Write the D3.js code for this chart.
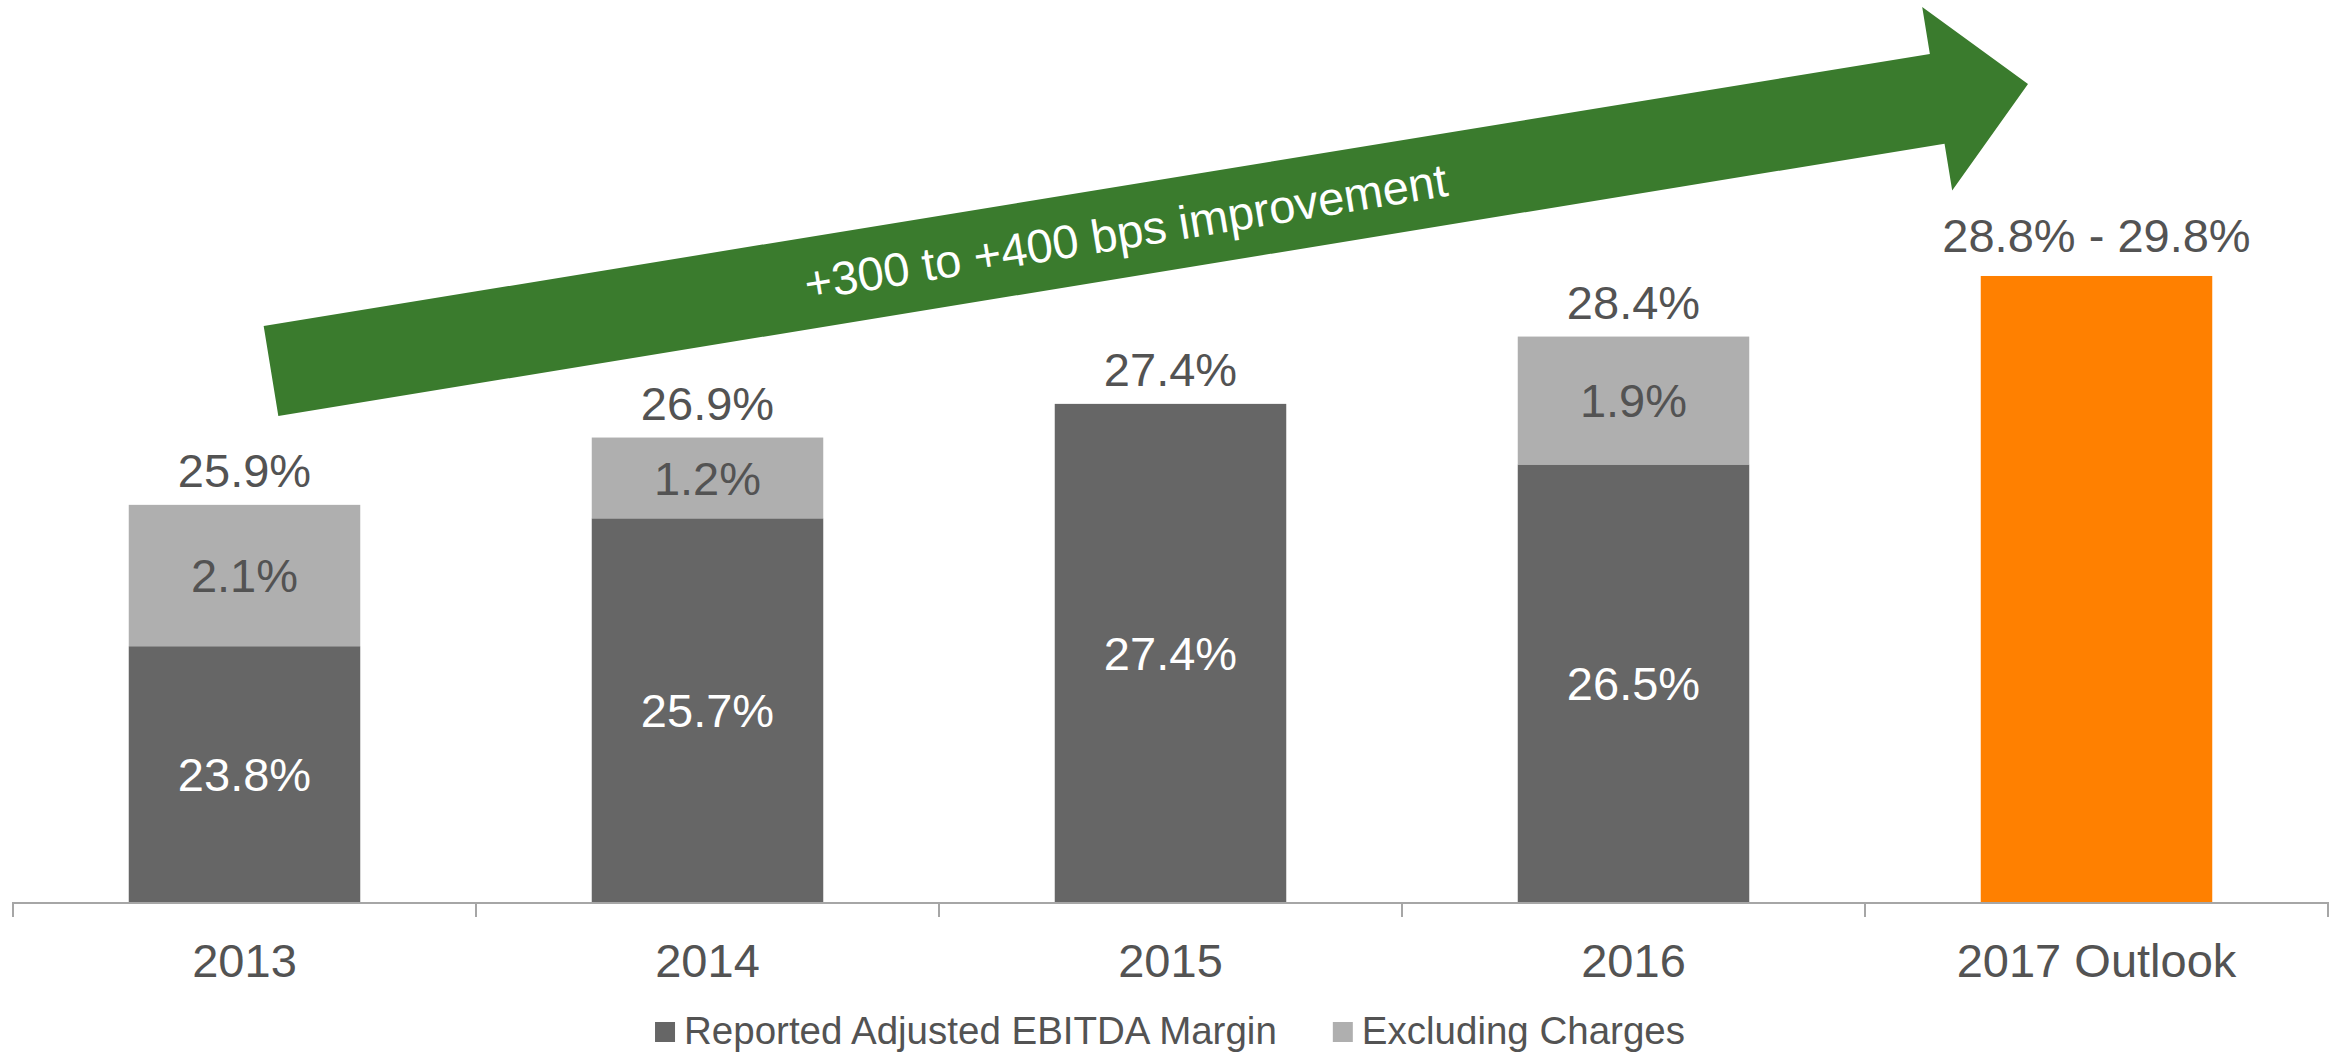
<!DOCTYPE html>
<html>
<head>
<meta charset="utf-8">
<script src="https://cdn.jsdelivr.net/npm/d3@7"></script>
<style>
  body { margin: 0; background: #fff; }
  text { font-family: "Liberation Sans", Arial, sans-serif; }
</style>
</head>
<body>
<div id="chart"></div>
<script>
// chart values
var years = ["2013", "2014", "2015", "2016", "2017 Outlook"];
var reported = [23.8, 25.7, 27.4, 26.5, null];
var charges = [2.1, 1.2, 0, 1.9, null];
var totalLabels = ["25.9%", "26.9%", "27.4%", "28.4%", "28.8% - 29.8%"];
var outlookRange = [28.8, 29.8];
var seriesNames = ["Reported Adjusted EBITDA Margin", "Excluding Charges"];

var width = 2338, height = 1054;
var textColor = "#535353";
var colors = { reported: "#666666", charges: "#afafaf", outlook: "#ff8000", arrow: "#3a7b2d" };

var svg = d3.select("#chart").append("svg")
    .attr("width", width)
    .attr("height", height);

// set the ranges
var x = d3.scaleBand().domain(years).range([13, 2328]).paddingInner(0.5).paddingOuter(0.25);
var y = d3.scaleLinear().domain([20, 33.4]).range([902, 0]);
var baseY = y(20);

var data = years.map(function(yr, i) {
  return { year: yr, reported: reported[i], charges: charges[i], label: totalLabels[i] };
});

// bars
data.forEach(function(d) {
  var g = svg.append("g");
  if (d.reported === null) {
    var mid = (outlookRange[0] + outlookRange[1]) / 2;
    g.append("rect")
      .attr("x", x(d.year)).attr("width", x.bandwidth())
      .attr("y", y(mid)).attr("height", baseY - y(mid))
      .attr("fill", colors.outlook);
    g.append("text")
      .attr("x", x(d.year) + x.bandwidth() / 2).attr("y", y(mid) - 24)
      .attr("text-anchor", "middle").style("font-size", "47px")
      .attr("fill", textColor).text(d.label);
    return;
  }
  var top = d.reported + d.charges;
  g.append("rect")
    .attr("x", x(d.year)).attr("width", x.bandwidth())
    .attr("y", y(d.reported)).attr("height", baseY - y(d.reported))
    .attr("fill", colors.reported);
  g.append("text")
    .attr("x", x(d.year) + x.bandwidth() / 2)
    .attr("y", (y(d.reported) + baseY) / 2).attr("dy", "0.36em")
    .attr("text-anchor", "middle").style("font-size", "47px")
    .attr("fill", "#ffffff").text(d.reported.toFixed(1) + "%");
  if (d.charges > 0) {
    g.append("rect")
      .attr("x", x(d.year)).attr("width", x.bandwidth())
      .attr("y", y(top)).attr("height", y(d.reported) - y(top))
      .attr("fill", colors.charges);
    g.append("text")
      .attr("x", x(d.year) + x.bandwidth() / 2)
      .attr("y", (y(top) + y(d.reported)) / 2).attr("dy", "0.36em")
      .attr("text-anchor", "middle").style("font-size", "47px")
      .attr("fill", textColor).text(d.charges.toFixed(1) + "%");
  }
  g.append("text")
    .attr("x", x(d.year) + x.bandwidth() / 2).attr("y", y(top) - 18)
    .attr("text-anchor", "middle").style("font-size", "47px")
    .attr("fill", textColor).text(d.label);
});

// x axis with ticks between categories
var step = x.step();
var axisG = svg.append("g").attr("stroke", "#a6a6a6").attr("stroke-width", 2);
axisG.append("line")
  .attr("x1", x.range()[0]).attr("x2", x.range()[1])
  .attr("y1", baseY + 1).attr("y2", baseY + 1);
d3.range(years.length + 1).forEach(function(i) {
  var tx = x.range()[0] + i * step;
  axisG.append("line")
    .attr("x1", tx).attr("x2", tx)
    .attr("y1", baseY).attr("y2", baseY + 15);
});
svg.selectAll(".cat").data(years).enter().append("text")
  .attr("class", "cat")
  .attr("x", function(d) { return x(d) + x.bandwidth() / 2; })
  .attr("y", 977)
  .attr("text-anchor", "middle").style("font-size", "47px")
  .attr("fill", textColor).text(function(d) { return d; });

// legend
var legend = svg.append("g");
var legendColors = [colors.reported, colors.charges];
var lx = 0;
seriesNames.forEach(function(name, i) {
  legend.append("rect")
    .attr("x", lx).attr("y", 1022).attr("width", 20).attr("height", 20)
    .attr("fill", legendColors[i]);
  var t = legend.append("text")
    .attr("x", lx + 29).attr("y", 1044)
    .style("font-size", "38.5px").attr("fill", textColor).text(name);
  lx += 29 + t.node().getComputedTextLength() + 56;
});
var lw = lx - 56;
legend.attr("transform", "translate(" + (1170 - lw / 2) + ",0)");

// improvement arrow (annotation)
var arrowTail = [271, 371], arrowTip = [2028, 84];
var shaftW = 91, headW = 186, headL = 92;
var dx = arrowTip[0] - arrowTail[0], dy = arrowTip[1] - arrowTail[1];
var len = Math.sqrt(dx * dx + dy * dy);
var ang = Math.atan2(dy, dx) * 180 / Math.PI;
var pts = [[0, -shaftW / 2], [len - headL, -shaftW / 2], [len - headL, -headW / 2], [len, 0],
           [len - headL, headW / 2], [len - headL, shaftW / 2], [0, shaftW / 2]];
var arrow = svg.append("g")
  .attr("transform", "translate(" + arrowTail[0] + "," + arrowTail[1] + ") rotate(" + ang + ")");
arrow.append("path")
  .attr("d", d3.line()(pts) + "Z")
  .attr("fill", colors.arrow);
arrow.append("text")
  .attr("x", 866).attr("y", 0).attr("dy", "0.36em")
  .attr("text-anchor", "middle").style("font-size", "47px")
  .attr("fill", "#ffffff").text("+300 to +400 bps improvement");
</script>
</body>
</html>
